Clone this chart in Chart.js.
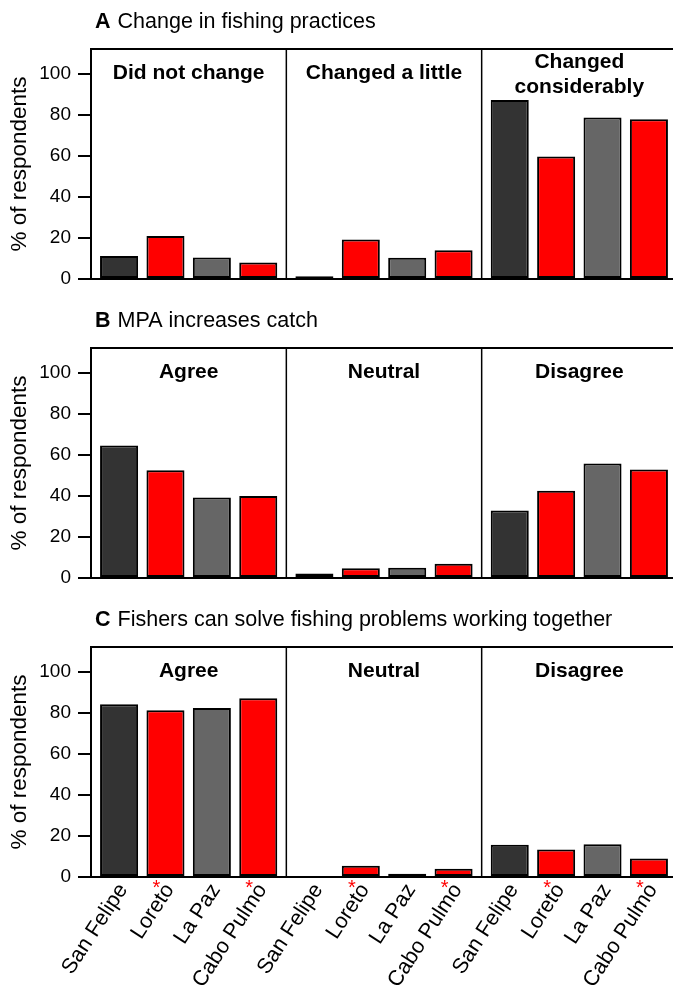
<!DOCTYPE html>
<html><head><meta charset="utf-8">
<script src="https://cdn.jsdelivr.net/npm/chart.js@4.4.1/dist/chart.umd.min.js"></script>
<style>
html,body{margin:0;padding:0;background:#fff;overflow:hidden;width:673px;height:988px}
#wrap{position:relative;width:680px;height:988px}
canvas{position:absolute;left:0}
</style></head><body>
<div id="wrap">
<canvas id="cA" width="680" height="299" style="top:0"></canvas>
<canvas id="cB" width="680" height="299" style="top:299px"></canvas>
<canvas id="cC" width="680" height="390" style="top:598px"></canvas>
</div>
<script>
const FONT = "'Liberation Sans', Arial, Helvetica, sans-serif";
const sites = ['San Felipe','Loreto','La Paz','Cabo Pulmo'];
const siteStarred = [false,true,false,true];
const siteColors = ['#333333','#ff0000','#666666','#ff0000'];
const yTicks = [0,20,40,60,80,100];

const titleA = 'Change in fishing practices';
const groupsA = ['Did not change','Changed a little',['Changed','considerably']];
const practiceSanFelipe = [11.2,1.3,87.2];
const practiceLoreto = [21.0,19.2,59.6];
const practiceLaPaz = [10.5,10.4,78.7];
const practiceCaboPulmo = [8.0,14.0,77.8];

const titleB = 'MPA increases catch';
const groupsB = ['Agree','Neutral','Disagree'];
const catchSanFelipe = [64.5,2.2,32.9];
const catchLoreto = [52.5,4.7,42.5];
const catchLaPaz = [39.2,5.0,55.7];
const catchCaboPulmo = [39.9,7.0,52.8];

const titleC = 'Fishers can solve fishing problems working together';
const groupsC = ['Agree','Neutral','Disagree'];
const togetherSanFelipe = [84.1,0,15.7];
const togetherLoreto = [81.2,5.5,13.4];
const togetherLaPaz = [82.3,1.6,16.0];
const togetherCaboPulmo = [87.0,4.0,9.0];

const panelPlugin = {
  id: 'panelDeco',
  afterDatasetsDraw(chart, args, opts) {
    const ctx = chart.ctx, a = chart.chartArea, x = chart.scales.x;
    ctx.save();
    ctx.strokeStyle = '#000';
    ctx.lineWidth = 2;
    ctx.beginPath(); ctx.moveTo(a.left - 1, a.top); ctx.lineTo(chart.width, a.top); ctx.stroke();
    ctx.beginPath(); ctx.moveTo(a.right, a.top); ctx.lineTo(a.right, a.bottom); ctx.stroke();
    ctx.lineWidth = 1.5;
    const n = chart.data.labels.length;
    for (let i = 0; i < n - 1; i++) {
      const px = (x.getPixelForValue(i) + x.getPixelForValue(i + 1)) / 2;
      ctx.beginPath(); ctx.moveTo(px, a.top); ctx.lineTo(px, a.bottom); ctx.stroke();
    }
    ctx.fillStyle = '#000';
    ctx.font = 'bold 21px ' + FONT;
    ctx.textAlign = 'center'; ctx.textBaseline = 'middle';
    chart.data.labels.forEach((lab, i) => {
      const lines = Array.isArray(lab) ? lab : [lab];
      const cx = x.getPixelForValue(i);
      const cy = a.top + (lines.length > 1 ? 26 : 24);
      lines.forEach((ln, j) => ctx.fillText(ln, cx, cy + (j - (lines.length - 1) / 2) * 25));
    });
    // panel title
    ctx.textAlign = 'left'; ctx.textBaseline = 'alphabetic';
    ctx.font = 'bold 21.5px ' + FONT;
    ctx.fillText(opts.letter, 95, 28);
    const lw = ctx.measureText(opts.letter).width;
    ctx.font = '21.5px ' + FONT;
    ctx.fillText(opts.text, 95 + lw + 7, 28);
    // site labels
    if (opts.siteLabels) {
      chart.data.datasets.forEach((ds, di) => {
        const meta = chart.getDatasetMeta(di);
        meta.data.forEach(el => {
          ctx.save();
          ctx.translate(el.x + 4, a.bottom + 9);
          ctx.rotate(-57 * Math.PI / 180);
          ctx.font = '21.5px ' + FONT;
          ctx.fillStyle = '#000';
          ctx.textAlign = 'right'; ctx.textBaseline = 'middle';
          ctx.fillText(ds.label, 0, 0);
          ctx.restore();
          if (siteStarred[di]) {
            ctx.save();
            ctx.font = '20px ' + FONT;
            ctx.fillStyle = '#ff0000';
            ctx.textAlign = 'center'; ctx.textBaseline = 'alphabetic';
            ctx.fillText('*', el.x - 9, a.bottom + 17);
            ctx.restore();
          }
        });
      });
    }
    ctx.restore();
  }
};

function makePanel(id, H, letter, title, groups, series, siteLabels) {
  new Chart(document.getElementById(id), {
    type: 'bar',
    data: {
      labels: groups,
      datasets: series.map((vals, i) => ({
        label: sites[i], data: vals,
        backgroundColor: siteColors[i], borderColor: '#000', borderWidth: 2,
        borderSkipped: false,
        categoryPercentage: 0.95, barPercentage: 0.82
      }))
    },
    options: {
      responsive: false, animation: false,
      layout: { padding: { top: 49, right: 3, left: 0, bottom: 0 } },
      plugins: { legend: { display: false }, tooltip: { enabled: false },
        panelDeco: { letter: letter, text: title, siteLabels: siteLabels } },
      scales: {
        x: { type: 'category', offset: true,
          grid: { display: false, drawTicks: false },
          ticks: { display: false },
          border: { display: true, color: '#000', width: 2 },
          afterFit: s => { s.height = H - 279; } },
        y: { min: 0, max: 112,
          afterBuildTicks: s => { s.ticks = yTicks.map(v => ({ value: v })); },
          ticks: { font: { size: 19, family: FONT }, color: '#000', padding: 7 },
          grid: { drawOnChartArea: false, drawTicks: true, tickLength: 13, color: '#000', lineWidth: 2 },
          border: { display: true, color: '#000', width: 2 },
          title: { display: true, text: '% of respondents', font: { size: 22.5, family: FONT }, color: '#000', padding: { top: 6, bottom: 0 } },
          afterFit: s => { s.width = 91; } }
      }
    },
    plugins: [panelPlugin]
  });
}

makePanel('cA', 299, 'A', titleA, groupsA,
  [practiceSanFelipe, practiceLoreto, practiceLaPaz, practiceCaboPulmo], false);
makePanel('cB', 299, 'B', titleB, groupsB,
  [catchSanFelipe, catchLoreto, catchLaPaz, catchCaboPulmo], false);
makePanel('cC', 390, 'C', titleC, groupsC,
  [togetherSanFelipe, togetherLoreto, togetherLaPaz, togetherCaboPulmo], true);
</script>
</body></html>
